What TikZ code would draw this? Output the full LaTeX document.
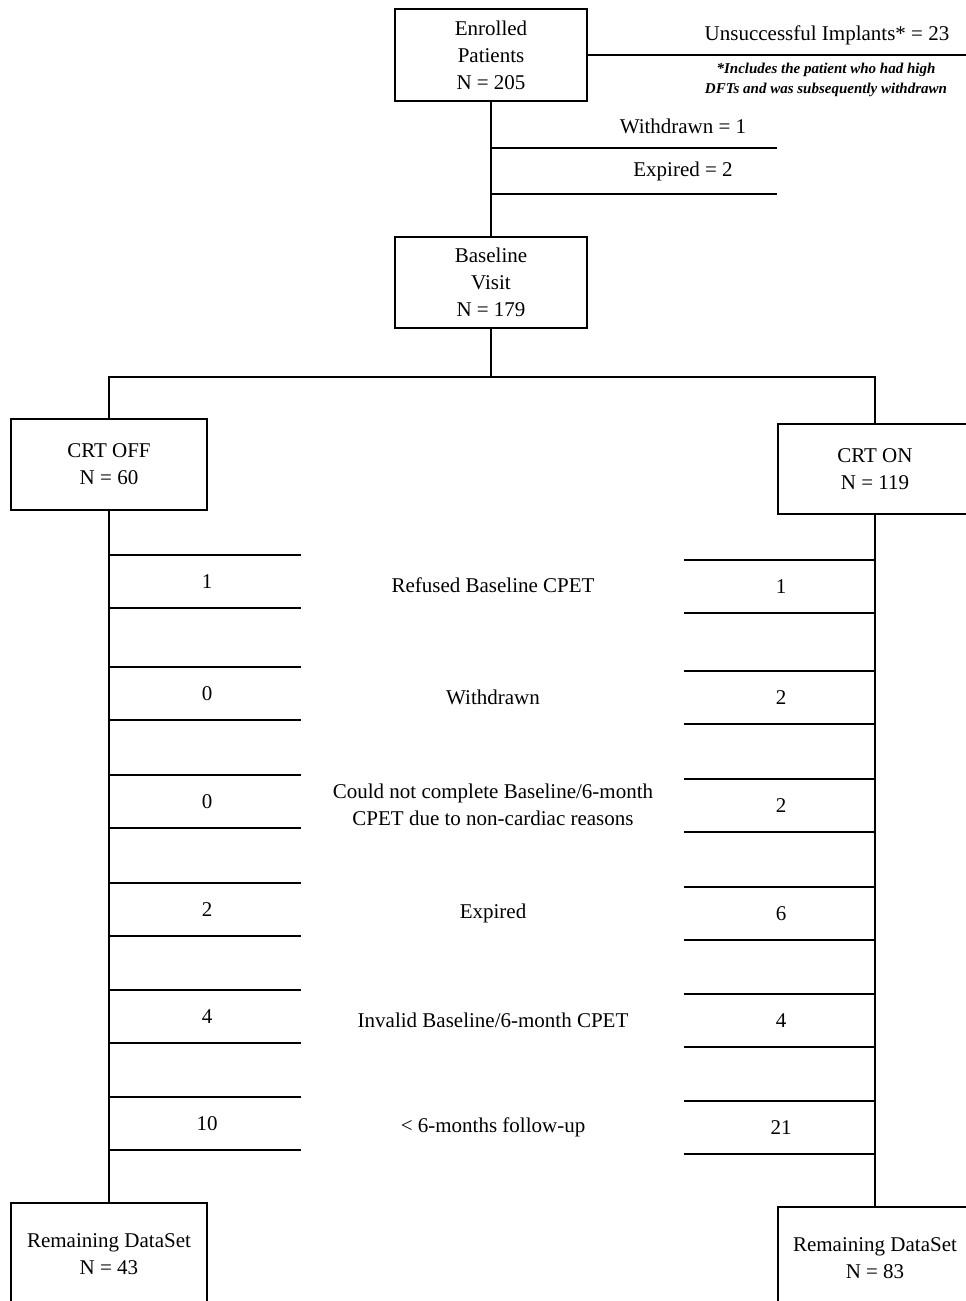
\documentclass[tikz,border=0pt]{standalone}
\usepackage{fontspec}
\setmainfont{Liberation Serif}
\newcommand{\mainfs}{\fontsize{21}{27}\selectfont}
\newcommand{\notefs}{\fontsize{15}{20}\selectfont\bfseries\itshape}
\begin{document}
\begin{tikzpicture}[x=1pt,y=-1pt,
  box/.style={draw,line width=1.7pt,inner sep=0pt,align=center,font=\mainfs},
  link/.style={line width=1.7pt},
  rung/.style={line width=1.7pt},
  lbl/.style={inner sep=0pt,align=center,font=\mainfs},
  note/.style={inner sep=0pt,align=center,font=\notefs}]
\useasboundingbox (0,0) rectangle (966,1301);
\clip (0,0) rectangle (966,1301);
\fill[white] (0,0) rectangle (966,1301);

% boxes
\node[box,minimum width=192pt,minimum height=92pt] (enrolled) at (491,55) {Enrolled\\Patients\\N = 205};
\node[box,minimum width=192pt,minimum height=91pt] (baseline) at (491,282.5) {Baseline\\Visit\\N = 179};
\node[box,minimum width=196pt,minimum height=91pt] (off) at (109,464.5) {CRT OFF\\N = 60};
\node[box,minimum width=194pt,minimum height=90pt] (on) at (875,469) {CRT ON\\N = 119};
\node[box,minimum width=196pt,minimum height=102pt] (remL) at (109,1254) {Remaining DataSet\\N = 43};
\node[box,minimum width=194pt,minimum height=102pt] (remR) at (875,1258) {Remaining DataSet\\N = 83};

% top exclusions
\coordinate (unsEnd) at (966,55);
\draw[link] (enrolled.east) -- (unsEnd);
\node[lbl] (uns) at (827,35) {Unsuccessful Implants* = 23};
\node[note] (footnote) at (826,80) {*Includes the patient who had high\\DFTs and was subsequently withdrawn};

\draw[link] (enrolled.south) -- (baseline.north);
\coordinate (wdA) at (491,148); \coordinate (wdB) at (777,148);
\coordinate (exA) at (491,194); \coordinate (exB) at (777,194);
\draw[rung] (wdA) -- (wdB);
\draw[rung] (exA) -- (exB);
\node[lbl] (wdtxt) at (683,126) {Withdrawn = 1};
\node[lbl] (extxt) at (683,171) {Expired = 2};

% split
\coordinate (split) at (491,377);
\draw[link] (baseline.south) -- (split);
\draw[link] (off.north) |- (split) -| (on.north);

% trunks
\draw[link] (off.south) -- (remL.north);
\draw[link] (on.south) -- (remR.north);

% rungs and labels
\foreach \i/\yl/\yr/\nl/\nr/\txt in {
  1/555/560/1/1/{Refused Baseline CPET},
  2/667/671/0/2/{Withdrawn},
  3/775/779/0/2/{Could not complete Baseline/6-month\\CPET due to non-cardiac reasons},
  4/883/887/2/6/{Expired},
  5/990/994/4/4/{Invalid Baseline/6-month CPET},
  6/1097/1101/10/21/{< 6-months follow-up}}{
  \coordinate (la\i) at (109,\yl);
  \coordinate (lb\i) at (301,\yl);
  \coordinate (lc\i) at (109,\yl+53);
  \coordinate (ld\i) at (301,\yl+53);
  \coordinate (ra\i) at (684,\yr);
  \coordinate (rb\i) at (875,\yr);
  \coordinate (rc\i) at (684,\yr+53);
  \coordinate (rd\i) at (875,\yr+53);
  \draw[rung] (la\i) -- (lb\i);
  \draw[rung] (lc\i) -- (ld\i);
  \draw[rung] (ra\i) -- (rb\i);
  \draw[rung] (rc\i) -- (rd\i);
  \node[lbl] (nl\i) at (207,\yl+26.5) {\nl};
  \node[lbl] (nr\i) at (781,\yr+26.5) {\nr};
  \node[lbl] (mid\i) at (493,{(\yl+\yr)/2+28}) {\txt};
}
\end{tikzpicture}
\end{document}
